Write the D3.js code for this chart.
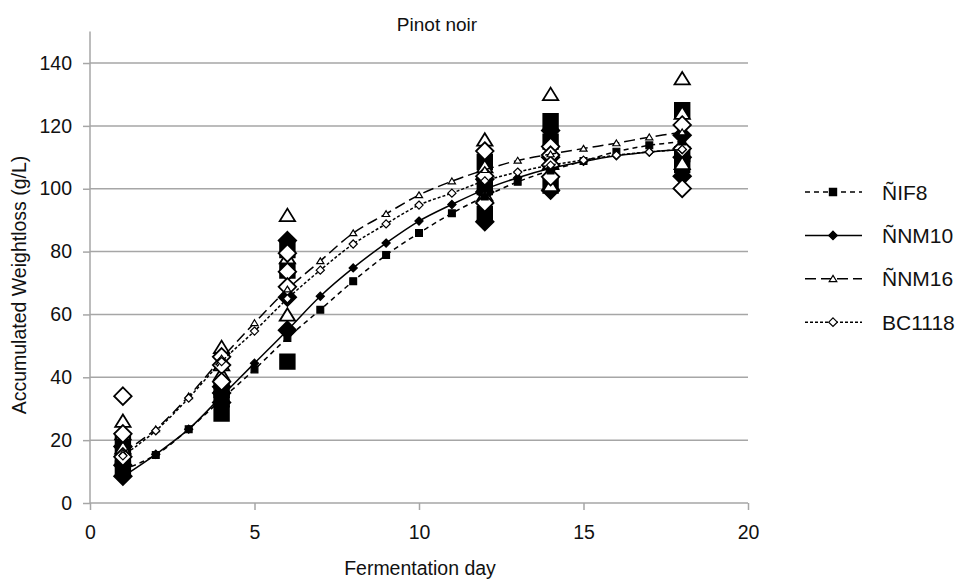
<!DOCTYPE html>
<html><head><meta charset="utf-8">
<script src="https://cdn.jsdelivr.net/npm/d3@7"></script>
<style>body{margin:0;background:#fff}text{font-family:"Liberation Sans",Arial,sans-serif;fill:#111}</style>
</head><body>
<svg id="c" width="956" height="579"></svg>
<script>
const days = [1,2,3,4,5,6,7,8,9,10,11,12,13,14,15,16,17,18];
const strains = ["ÑIF8","ÑNM10","ÑNM16","BC1118"];
const fitIF8   = [10.5,15.3,23.5,33,42.5,52.5,61.5,70.6,78.9,85.9,92.2,97.5,102.2,105.8,108.8,111.8,113.8,115];
const fitNM10  = [8.4,15.5,23.5,34,44.5,55,65.8,74.8,82.7,89.7,95,99.8,103.5,106.5,108.7,110.5,111.7,112.5];
const fitNM16  = [16,23.5,34,46,57.3,68,77,85.9,92,98,102.4,106,109,111,112.8,114.5,116.4,118];
const fitBC1118= [15,23,33.4,45,54.7,65,74.1,82.4,88.8,94.8,98.6,102.5,105.3,107.5,109.1,110.7,111.7,112.5];
const obsDays = [1,4,6,12,14,18];
const obsIF8   = [[20,15,11],[36,33,28.5],[80.5,74,45],[108.5,100.5,92],[121.5,115,101],[125,111,107.5]];
const obsNM10  = [[18,12,8.5],[37,35,32],[83.5,65.5,55],[103,99,89.5],[118.5,110,99.5],[117,110,104]];
const obsNM16  = [[26,22,17.5],[49.5,44,41],[91.5,78,59.8],[115.5,107,98],[130,108,101],[135,124,108]];
const obsBC1118= [[34,22,14.7],[46.5,43.9,38.6],[79.5,73.6,68.8],[112,104,95.5],[113.4,110.7,107.5,103.8],[120.3,112.8,100.1]];
const yTicks = [0,20,40,60,80,100,120,140];
const xTicks = [0,5,10,15,20];

const fits = [fitIF8,fitNM10,fitNM16,fitBC1118];
const obs = [obsIF8,obsNM10,obsNM16,obsBC1118];
const shapes = ["square","diamond","triangle","diamond"];
const fills = ["#000","#000","#fff","#fff"];
const dashes = ["5,4",null,"11,5","3,2"];

const svg = d3.select("#c");
const x = d3.scaleLinear().domain([0,20]).range([90,748]);
const y = d3.scaleLinear().domain([0,150]).range([503,31.6]);
const grey = "#a6a6a6";

function shapePath(s, r){
  if(s==="square") return `M${-r},${-r}H${r}V${r}H${-r}Z`;
  if(s==="diamond"){const q=r*1.2;return `M0,${-q}L${q},0L0,${q}L${-q},0Z`;}
  const h=r*1.7; return `M0,${-h*0.55}L${r*1.05},${h*0.45}L${-r*1.05},${h*0.45}Z`;
}

// gridlines
svg.append("g").selectAll("line").data(yTicks.filter(d=>d>0)).join("line")
  .attr("x1",x(0)).attr("x2",x(20)).attr("y1",d=>y(d)).attr("y2",d=>y(d))
  .attr("stroke",grey).attr("stroke-width",1.5);

// axes
const yAx = svg.append("g").attr("transform",`translate(${x(0)},0)`)
  .call(d3.axisLeft(y).tickValues(yTicks).tickSize(7).tickPadding(11));
const xAx = svg.append("g").attr("transform",`translate(0,${y(0)})`)
  .call(d3.axisBottom(x).tickValues(xTicks).tickSize(7).tickPadding(15));
[yAx,xAx].forEach(a=>{
  a.selectAll("path").attr("stroke",grey).attr("stroke-width",1.5);
  a.selectAll("line").attr("stroke",grey).attr("stroke-width",1.5);
  a.selectAll("text").attr("font-size",19.5).style("font-family","'Liberation Sans',Arial,sans-serif").attr("fill","#111");
});
xAx.select("path").attr("d",`M${x(0)},0H${x(20)}`);
yAx.select("path").attr("d",`M0,${y(150)}V${y(0)}`);

// observations
obs.forEach((arr,si)=>{
  const pts=[];
  arr.forEach((vals,di)=>vals.forEach(v=>pts.push([obsDays[di],v])));
  svg.append("g").selectAll("path").data(pts).join("path")
    .attr("transform",d=>`translate(${x(d[0])},${y(d[1])})`)
    .attr("d",shapePath(shapes[si],7.3))
    .attr("fill",fills[si]).attr("stroke","#000").attr("stroke-width",1.8);
});

// fitted curves
const line = d3.line().x(d=>x(d[0])).y(d=>y(d[1])).curve(d3.curveCatmullRom);
fits.forEach((f,si)=>{
  const pts = days.map((d,i)=>[d,f[i]]);
  svg.append("path").datum(pts).attr("d",line).attr("fill","none")
    .attr("stroke","#000").attr("stroke-width",1.5).attr("stroke-dasharray",dashes[si]);
  svg.append("g").selectAll("path").data(pts).join("path")
    .attr("transform",d=>`translate(${x(d[0])},${y(d[1])})`)
    .attr("d",shapePath(shapes[si],3.4))
    .attr("fill",fills[si]).attr("stroke","#000").attr("stroke-width",1.2);
});

// legend
const lg = svg.append("g");
strains.forEach((s,i)=>{
  const yy = 192 + i*43.4;
  lg.append("line").attr("x1",805).attr("x2",862).attr("y1",yy).attr("y2",yy)
    .attr("stroke","#000").attr("stroke-width",1.5).attr("stroke-dasharray",dashes[i]);
  lg.append("path").attr("transform",`translate(833,${yy})`).attr("d",shapePath(shapes[i],3.6))
    .attr("fill",fills[i]).attr("stroke","#000").attr("stroke-width",1.2);
  lg.append("text").attr("x",882).attr("y",yy).attr("dy","0.36em").attr("font-size",21).text(s);
});

// titles
svg.append("text").attr("x",437).attr("y",31).attr("text-anchor","middle").attr("font-size",19).text("Pinot noir");
svg.append("text").attr("x",420).attr("y",575).attr("text-anchor","middle").attr("font-size",19.5).text("Fermentation day");
svg.append("text").attr("transform","translate(26,285) rotate(-90)").attr("text-anchor","middle").attr("font-size",19.5).text("Accumulated Weightloss (g/L)");
</script>
</body></html>
